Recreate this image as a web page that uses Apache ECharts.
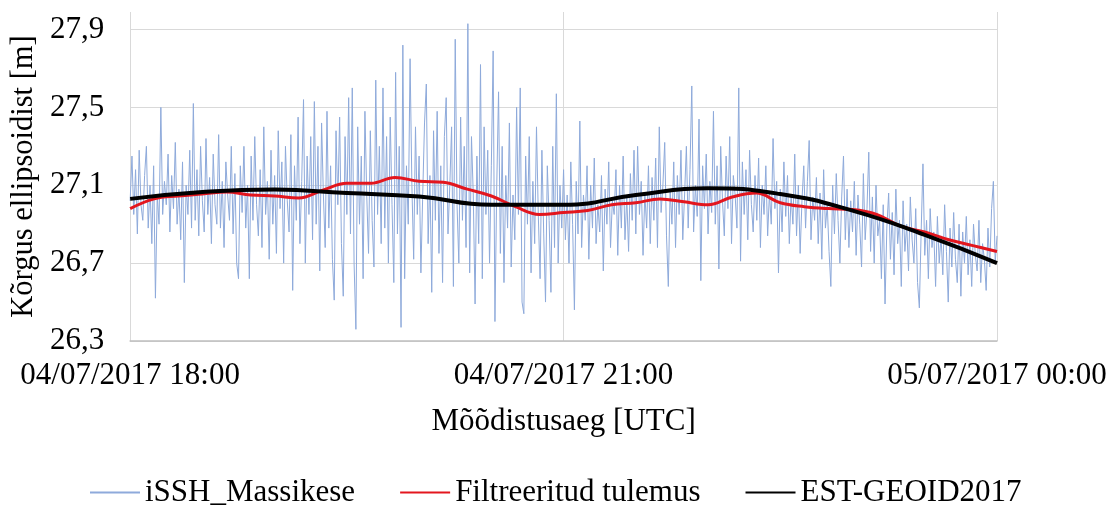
<!DOCTYPE html>
<html>
<head>
<meta charset="utf-8">
<script src="https://cdn.jsdelivr.net/npm/echarts@6/dist/echarts.min.js"></script>
<style>
html,body{margin:0;padding:0;background:#fff;}
#chart{width:1112px;height:506px;}
</style>
</head>
<body>
<div id="chart"></div>
<script>
// ---- data ----
const seriesNames = ['iSSH_Massikese', 'Filtreeritud tulemus', 'EST-GEOID2017'];
const startTime = Date.UTC(2017, 6, 4, 18, 0, 0);
const endTime = Date.UTC(2017, 6, 5, 0, 0, 0);
const xTickStepHours = 3;
const yTickValues = [26.3, 26.7, 27.1, 27.5, 27.9];

// iSSH_Massikese: one sample every 45 s (metres)
const isshStepSec = 45;
const isshValues = [
27.02,27.25,26.95,27.18,26.85,27.28,27.00,26.92,27.15,27.30,26.88,27.10,26.80,27.20,26.52,27.05,26.90,27.50,26.95,27.12,
27.00,27.26,26.86,27.15,26.98,27.32,26.90,27.08,26.82,27.22,26.60,27.10,26.95,27.28,26.88,27.52,26.92,27.18,26.84,27.30,
27.02,26.86,27.34,26.95,27.14,26.80,27.26,27.00,26.90,27.36,26.88,27.12,26.78,27.22,27.05,26.92,27.30,26.85,27.16,26.70,
26.62,27.20,26.96,27.30,26.88,27.10,26.62,27.25,26.92,27.35,27.00,26.84,27.18,26.78,27.40,26.95,27.12,26.72,27.28,26.90,
27.15,26.75,27.38,26.98,27.22,26.70,27.30,27.02,26.86,27.36,26.56,27.20,26.92,27.45,26.80,27.12,27.54,26.70,27.25,26.95,
27.35,26.82,27.53,26.90,27.30,26.66,27.42,27.05,26.78,27.48,26.88,27.20,26.72,26.51,27.38,27.00,27.45,26.80,26.53,27.35,
26.95,27.55,26.85,27.60,26.70,26.36,27.40,26.90,27.25,26.62,27.48,27.05,26.75,27.38,26.92,26.68,27.64,26.95,27.30,26.80,
27.60,26.88,27.35,26.70,27.45,27.00,26.60,27.68,26.85,27.30,26.37,27.82,26.62,27.20,26.90,27.75,27.10,26.72,27.40,26.95,
27.25,26.65,27.05,27.42,27.62,26.80,27.15,26.55,27.38,26.92,27.48,26.75,27.20,26.60,27.35,27.55,26.85,27.10,27.40,26.58,
27.85,27.00,26.70,27.45,26.92,27.30,26.78,27.93,26.65,27.35,27.05,26.49,27.25,26.80,27.72,26.62,27.40,26.95,27.28,26.70,
27.20,27.79,26.40,27.10,27.58,26.75,27.30,26.60,27.15,26.88,27.42,26.68,27.05,26.82,27.50,26.95,27.60,26.50,26.44,27.25,
26.90,27.35,26.65,27.12,26.80,27.40,26.95,26.62,27.28,26.85,26.50,27.20,26.92,26.55,27.30,26.78,27.57,26.70,27.10,26.88,
27.18,26.82,27.05,26.70,27.22,26.90,26.46,27.12,26.85,27.43,26.78,27.05,26.92,27.20,26.72,27.10,26.88,27.24,26.80,27.00,
26.86,27.15,26.66,27.08,26.90,27.22,26.78,27.02,26.95,27.18,26.74,27.10,26.88,27.25,26.82,27.04,26.76,27.16,26.92,27.28,
26.85,27.30,26.95,27.12,26.74,27.06,26.88,27.20,26.80,27.14,26.92,27.24,26.78,27.40,26.96,27.10,27.32,26.84,26.58,27.08,
26.90,27.22,26.78,27.15,26.95,27.28,26.82,27.05,27.30,26.88,27.18,27.61,26.86,27.10,26.94,27.44,26.61,27.20,26.98,27.26,
26.85,27.12,26.96,27.48,26.90,27.20,26.67,27.30,27.02,26.84,27.25,26.98,27.35,26.80,27.15,27.05,26.88,27.60,26.71,27.22,
26.95,27.18,26.82,27.28,27.00,26.86,27.15,26.92,27.24,26.78,27.10,26.95,27.20,26.84,27.06,26.90,27.34,26.98,27.12,26.65,
27.08,26.86,27.22,26.94,27.15,26.80,27.05,26.90,27.26,26.84,27.10,26.75,27.02,27.20,26.88,27.12,27.33,26.82,27.04,26.92,
27.14,26.80,27.06,26.72,27.18,26.88,27.00,26.76,26.58,27.10,26.85,27.16,26.92,26.70,27.04,27.25,26.82,27.08,26.78,27.02,
26.86,27.12,26.74,27.05,26.90,26.68,27.16,26.82,26.98,27.27,26.76,27.04,26.70,27.10,26.84,26.92,26.62,27.00,26.49,26.88,
27.06,26.72,26.96,26.64,27.08,26.80,26.92,26.58,27.02,26.76,26.90,26.66,27.04,26.82,26.70,26.98,26.60,26.47,26.86,27.21,
26.74,26.92,26.62,26.98,26.78,26.86,26.58,26.94,26.70,26.84,26.64,27.00,26.76,26.50,26.88,26.68,26.96,26.72,26.60,26.90,
26.53,26.86,26.70,26.94,26.64,26.82,26.58,26.90,26.74,26.66,26.92,26.60,26.80,26.72,26.56,26.88,26.68,26.98,27.12,26.70,26.84
];

// Filtreeritud tulemus: one value every 10 min (metres)
const filtStepMin = 10;
const filtValues = [
26.98,27.03,27.045,27.055,27.065,27.05,27.045,27.035,27.075,27.11,
27.11,27.14,27.12,27.115,27.08,27.045,26.99,26.95,26.96,26.97,
27.00,27.01,27.03,27.015,27.00,27.04,27.06,27.01,26.99,26.98,
26.975,26.95,26.89,26.86,26.82,26.79,26.76
];

// EST-GEOID2017: one value every 30 min (metres)
const geoidStepMin = 30;
const geoidValues = [
27.03,27.065,27.078,27.06,27.042,27.00,27.00,27.05,27.085,27.055,26.97,26.845,26.70
];

// ---- build chart ----
const toPairs = (vals, stepMs) => vals.map((v, i) => [startTime + i * stepMs, v]);
const isshData = toPairs(isshValues, isshStepSec * 1000);
const filtData = toPairs(filtValues, filtStepMin * 60000);
const geoidData = toPairs(geoidValues, geoidStepMin * 60000);

const FONT = "'Liberation Serif','Times New Roman',serif";
const FS = 31;
const pad = n => String(n).padStart(2, '0');
const fmtTime = v => {
  const d = new Date(v);
  return pad(d.getUTCDate()) + '/' + pad(d.getUTCMonth() + 1) + '/' + d.getUTCFullYear() +
    ' ' + pad(d.getUTCHours()) + ':' + pad(d.getUTCMinutes());
};

const chart = echarts.init(document.getElementById('chart'), null, {renderer: 'canvas'});
chart.setOption({
  animation: false,
  backgroundColor: '#ffffff',
  textStyle: {fontFamily: FONT},
  grid: {left: 126, right: 115, top: 12, bottom: 165, containLabel: false},
  legend: {
    data: seriesNames,
    top: 472,
    left: 84,
    itemWidth: 50,
    itemHeight: 14,
    itemGap: 44,
    itemStyle: {opacity: 0},
    textStyle: {fontFamily: FONT, fontSize: FS, color: '#000'}
  },
  xAxis: {
    type: 'value',
    min: startTime,
    max: endTime,
    interval: xTickStepHours * 3600000,
    name: 'Mõõdistusaeg [UTC]',
    nameLocation: 'middle',
    nameGap: 65,
    nameTextStyle: {fontFamily: FONT, fontSize: FS, color: '#000'},
    axisLine: {show: true, lineStyle: {color: '#bfbfbf', width: 1.5}},
    axisTick: {show: false},
    axisLabel: {
      fontFamily: FONT, fontSize: FS, color: '#000', margin: 19,
      showMinLabel: true, showMaxLabel: true,
      formatter: fmtTime
    },
    splitLine: {show: true, lineStyle: {color: '#d9d9d9', width: 1}}
  },
  yAxis: {
    type: 'value',
    min: yTickValues[0],
    max: 27.99,
    interval: 0.4,
    name: 'Kõrgus ellipsoidist [m]',
    nameLocation: 'middle',
    nameGap: 85,
    nameRotate: 90,
    nameTextStyle: {fontFamily: FONT, fontSize: 30.5, color: '#000'},
    axisLine: {show: false},
    axisTick: {show: false},
    axisLabel: {
      fontFamily: FONT, fontSize: FS, color: '#000', margin: 26,
      showMaxLabel: false,
      formatter: v => {
        const hit = yTickValues.find(t => Math.abs(t - v) < 1e-6);
        return hit === undefined ? '' : hit.toFixed(1).replace('.', ',');
      }
    },
    splitLine: {show: true, showMaxLine: false, lineStyle: {color: '#d9d9d9', width: 1}}
  },
  series: [
    {
      name: seriesNames[0], type: 'line', data: isshData,
      showSymbol: false, symbol: 'none',
      lineStyle: {color: '#8eaadb', width: 1},
      itemStyle: {color: '#8eaadb'},
      z: 2
    },
    {
      name: seriesNames[1], type: 'line', data: filtData,
      showSymbol: false, symbol: 'none', smooth: 0.4,
      lineStyle: {color: '#e3161e', width: 3},
      itemStyle: {color: '#e3161e'},
      z: 3
    },
    {
      name: seriesNames[2], type: 'line', data: geoidData,
      showSymbol: false, symbol: 'none', smooth: 0.5,
      lineStyle: {color: '#000000', width: 4},
      itemStyle: {color: '#000000'},
      z: 4
    }
  ]
});
</script>
</body>
</html>
